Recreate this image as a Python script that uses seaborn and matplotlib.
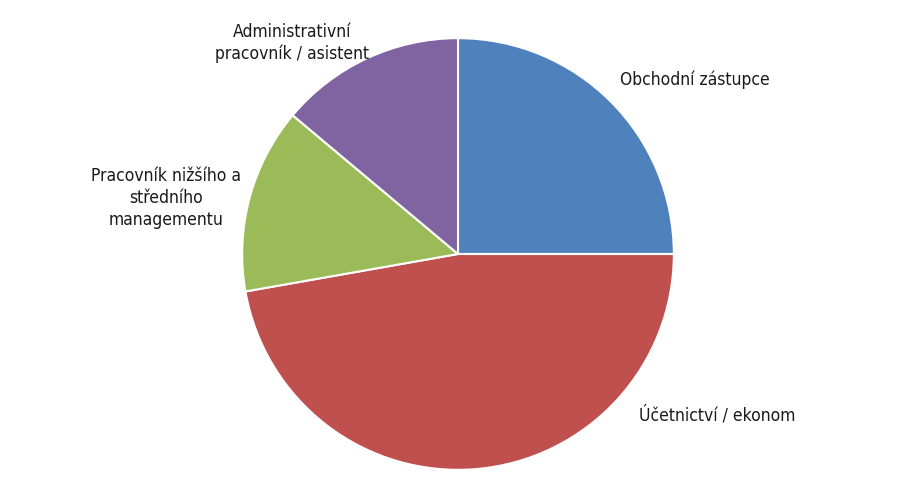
import matplotlib
matplotlib.use("Agg")
import matplotlib.pyplot as plt
import seaborn as sns

sns.set_theme(style="white")

plt.rcParams['font.family'] = ['DejaVu Sans']

categories = ["Obchodní zástupce", "Účetnictví / ekonom",
              "Pracovník nižšího a\nstředního\nmanagementu",
              "Administrativní\npracovník / asistent"]
values = [9, 17, 5, 5]
colors = ["#4F81BD", "#C0504D", "#9BBB59", "#8064A2"]

W, H = 919, 487
fig = plt.figure(figsize=(W / 100, H / 100), dpi=100)
cx, cy, r = 458, 254, 218
ax = fig.add_axes([(cx - r) / W, (H - cy - r) / H, 2 * r / W, 2 * r / H])
ax.pie(values, colors=colors, startangle=90, counterclock=False,
       wedgeprops=dict(edgecolor="white", linewidth=1.5))
ax.set_xlim(-1.01, 1.01)
ax.set_ylim(-1.01, 1.01)
ax.set_aspect("equal")
ax.axis("off")

label_pos = [(695, 80), (717, 415), (166, 198), (292, 43)]
for txt, (px, py) in zip(categories, label_pos):
    fig.text(px / W, 1 - py / H, txt, ha="center", va="center",
             fontsize=12.5, fontstretch="condensed", color="#1a1a1a",
             linespacing=1.3)

fig.savefig("out.png", dpi=100, facecolor="white")
